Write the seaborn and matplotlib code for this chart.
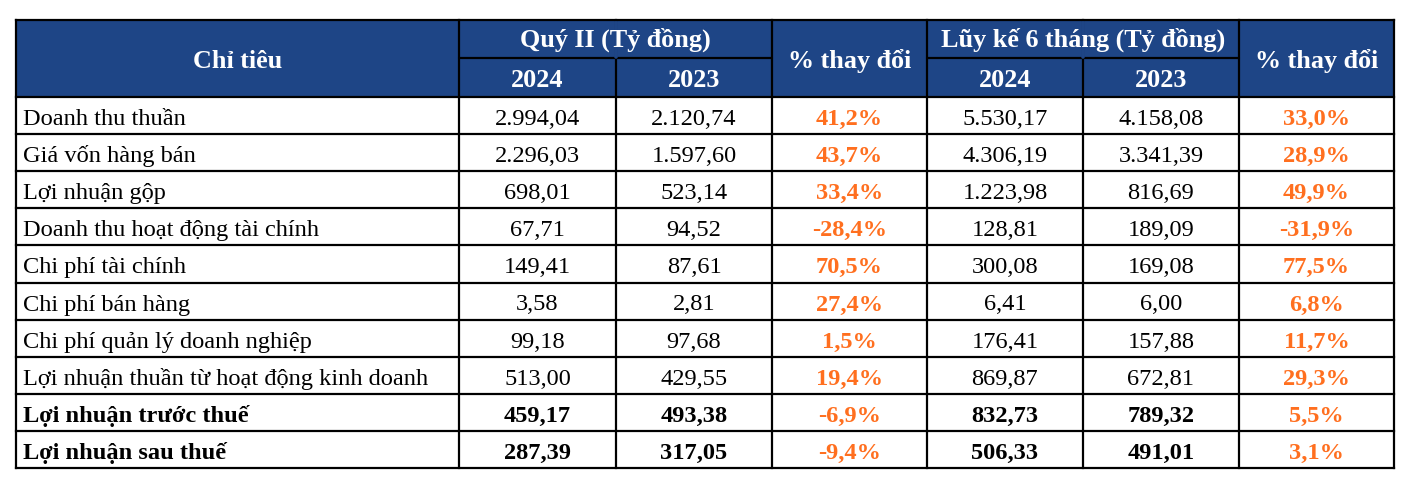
import numpy as np
import matplotlib
matplotlib.use("Agg")
import matplotlib.pyplot as plt
import seaborn as sns
from matplotlib.patches import Rectangle

# Data
labels = [
    "Doanh thu thuần",
    "Giá vốn hàng bán",
    "Lợi nhuận gộp",
    "Doanh thu hoạt động tài chính",
    "Chi phí tài chính",
    "Chi phí bán hàng",
    "Chi phí quản lý doanh nghiệp",
    "Lợi nhuận thuần từ hoạt động kinh doanh",
    "Lợi nhuận trước thuế",
    "Lợi nhuận sau thuế",
]
q2_2024 = [2994.04, 2296.03, 698.01, 67.71, 149.41, 3.58, 99.18, 513.00, 459.17, 287.39]
q2_2023 = [2120.74, 1597.60, 523.14, 94.52, 87.61, 2.81, 97.68, 429.55, 493.38, 317.05]
q2_change = [41.2, 43.7, 33.4, -28.4, 70.5, 27.4, 1.5, 19.4, -6.9, -9.4]
h1_2024 = [5530.17, 4306.19, 1223.98, 128.81, 300.08, 6.41, 176.41, 869.87, 832.73, 506.33]
h1_2023 = [4158.08, 3341.39, 816.69, 189.09, 169.08, 6.00, 157.88, 672.81, 789.32, 491.01]
h1_change = [33.0, 28.9, 49.9, -31.9, 77.5, 6.8, 11.7, 29.3, 5.5, 3.1]
bold_rows = ["Lợi nhuận trước thuế", "Lợi nhuận sau thuế"]

header_first = "Chỉ tiêu"
group_q2 = "Quý II (Tỷ đồng)"
group_h1 = "Lũy kế 6 tháng (Tỷ đồng)"
change_label = "% thay đổi"
years = ["2024", "2023"]

# Layout (pixels)
col_edges = [16, 459, 616, 772, 927, 1083, 1239, 1394]
top, mid, head_bottom, bottom = 20, 58, 97, 468
header_bg = "#1E4586"
orange = "#FF6F1F"
lw = 1.6


def fmt_num(v):
    s = f"{v:,.2f}"
    return s.replace(",", "X").replace(".", ",").replace("X", ".")


def fmt_pct(v):
    return f"{v:.1f}".replace(".", ",") + "%"


def main():
    sns.set_theme(style="white")
    plt.rcParams["font.family"] = ["Liberation Serif", "DejaVu Serif"]

    fig = plt.figure(figsize=(14.12, 4.82), dpi=100)
    ax = fig.add_axes([0, 0, 1, 1])
    ax.set_xlim(0, 1412)
    ax.set_ylim(482, 0)
    ax.axis("off")

    # header background
    ax.add_patch(Rectangle((col_edges[0], top), col_edges[-1] - col_edges[0],
                           head_bottom - top, facecolor=header_bg, edgecolor="none"))

    hfs = 18.8
    hkw = dict(color="white", fontweight="bold", fontsize=hfs, ha="center", va="baseline")
    cx = [(col_edges[i] + col_edges[i + 1]) / 2 for i in range(7)]
    ax.text(cx[0], 68, header_first, **hkw)
    ax.text((col_edges[1] + col_edges[3]) / 2, 47, group_q2, **hkw)
    ax.text((col_edges[4] + col_edges[6]) / 2, 47, group_h1, **hkw)
    ax.text(cx[3], 68, change_label, **hkw)
    ax.text(cx[6], 68, change_label, **hkw)
    for i, c in enumerate([1, 2, 4, 5]):
        ax.text(cx[c], 87, years[i % 2], **hkw)

    # body
    n = len(labels)
    row_h = (bottom - head_bottom) / n
    fs = 17.6
    for r in range(n):
        yb = head_bottom + row_h * r + 28
        weight = "bold" if labels[r] in bold_rows else "normal"
        ax.text(col_edges[0] + 7, yb, labels[r], ha="left", va="baseline",
                fontsize=fs, fontweight=weight, color="black")
        vals = [fmt_num(q2_2024[r]), fmt_num(q2_2023[r]), fmt_pct(q2_change[r]),
                fmt_num(h1_2024[r]), fmt_num(h1_2023[r]), fmt_pct(h1_change[r])]
        for c, v in enumerate(vals, start=1):
            is_pct = c in (3, 6)
            ax.text(cx[c], yb, v, ha="center", va="baseline", fontsize=fs,
                    fontweight="bold" if (is_pct or weight == "bold") else "normal",
                    color=orange if is_pct else "black")

    # grid lines
    for x in col_edges:
        ax.plot([x, x], [top, bottom], color="black", lw=lw, solid_capstyle="projecting")
    # header split lines (only under group headers)
    ax.plot([col_edges[1], col_edges[3]], [mid, mid], color="black", lw=lw)
    ax.plot([col_edges[4], col_edges[6]], [mid, mid], color="black", lw=lw)
    # no vertical lines inside group headers above the split
    for x in (col_edges[2], col_edges[5]):
        ax.plot([x, x], [top + lw, mid - lw / 2], color=header_bg, lw=lw + 1)
    for k in range(n + 1):
        y = head_bottom + row_h * k
        ax.plot([col_edges[0], col_edges[-1]], [y, y], color="black", lw=lw,
                solid_capstyle="projecting")
    ax.plot([col_edges[0], col_edges[-1]], [top, top], color="black", lw=lw,
            solid_capstyle="projecting")

    fig.savefig("out.png", dpi=100, facecolor="white")


if __name__ == "__main__":
    main()
